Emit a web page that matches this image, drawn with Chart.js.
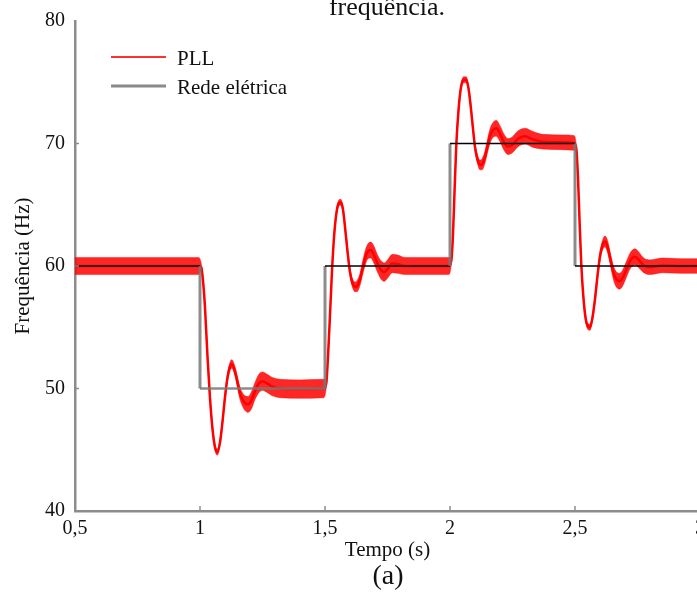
<!DOCTYPE html>
<html>
<head>
<meta charset="utf-8">
<script src="https://cdn.jsdelivr.net/npm/chart.js@4.4.1/dist/chart.umd.min.js"></script>
<style>
  html, body { margin: 0; padding: 0; background: #fff; overflow: hidden; }
  canvas { display: block; }
</style>
</head>
<body>
<canvas id="freqChart" width="710" height="592"></canvas>
<script>
// tick labels
const xTicks = [0.5, 1, 1.5, 2, 2.5, 3];
const yTicks = [40, 50, 60, 70, 80];

// grid frequency (step reference)
const gridTime = [0.5, 1, 1, 1.5, 1.5, 2, 2, 2.5, 2.5, 3];
const gridFreq = [60, 60, 50, 50, 60, 60, 70, 70, 60, 60];

// PLL estimate: centre value and half-width of the ripple band (Hz)
const pllTime = [
  0.5, 0.75, 0.995,
  1.005, 1.012, 1.02, 1.03, 1.04, 1.05, 1.06, 1.069, 1.08, 1.09, 1.1, 1.11, 1.12, 1.127, 1.14, 1.15, 1.16, 1.17, 1.18, 1.192, 1.205, 1.22, 1.235, 1.25, 1.27, 1.29, 1.32, 1.4, 1.495,
  1.505, 1.512, 1.52, 1.528, 1.537, 1.547, 1.556, 1.563, 1.572, 1.58, 1.59, 1.6, 1.61, 1.62, 1.628, 1.64, 1.65, 1.66, 1.67, 1.683, 1.695, 1.71, 1.725, 1.737, 1.75, 1.77, 1.79, 1.82, 1.9, 1.995,
  2.005, 2.012, 2.018, 2.025, 2.034, 2.044, 2.055, 2.065, 2.074, 2.082, 2.092, 2.1, 2.11, 2.12, 2.128, 2.14, 2.15, 2.16, 2.17, 2.185, 2.2, 2.215, 2.232, 2.25, 2.27, 2.3, 2.33, 2.37, 2.45, 2.495,
  2.505, 2.512, 2.518, 2.525, 2.533, 2.542, 2.552, 2.56, 2.57, 2.58, 2.59, 2.6, 2.61, 2.62, 2.63, 2.64, 2.65, 2.66, 2.678, 2.69, 2.705, 2.72, 2.739, 2.755, 2.775, 2.8, 2.85, 2.92, 3
];
const pllFreq = [
  60, 60, 60,
  59.9, 58.8, 56.6, 52.6, 49.2, 46.7, 45.2, 44.8, 45.6, 47.3, 49.3, 50.9, 51.8, 52.0, 51.4, 50.5, 49.6, 49.1, 48.8, 48.7, 49.0, 49.8, 50.4, 50.6, 50.4, 50.15, 50.0, 49.95, 50.0,
  50.4, 52.6, 56.0, 59.6, 62.6, 64.5, 65.15, 65.2, 64.6, 63.2, 61.2, 59.5, 58.6, 58.3, 58.35, 58.9, 59.8, 60.6, 61.15, 61.3, 60.95, 60.2, 59.65, 59.5, 59.75, 60.2, 60.15, 60.0, 60.0, 60.0,
  60.4, 62.6, 66.0, 69.8, 72.7, 74.6, 75.2, 75.2, 74.5, 73.2, 71.2, 69.7, 68.7, 68.25, 68.3, 68.9, 69.8, 70.6, 71.05, 71.25, 70.8, 70.15, 69.75, 69.9, 70.35, 70.6, 70.35, 70.15, 70.1, 70.05,
  69.6, 67.2, 63.8, 60.2, 57.6, 55.8, 55.05, 55.0, 55.8, 57.3, 59.2, 60.8, 61.7, 62.0, 61.6, 60.7, 59.75, 59.1, 58.75, 59.0, 59.7, 60.4, 60.75, 60.5, 60.05, 59.9, 60.05, 60.0, 60.0
];
const pllBand = [
  0.7, 0.7, 0.7,
  0.3, 0.25, 0.25, 0.25, 0.25, 0.25, 0.25, 0.25, 0.25, 0.25, 0.3, 0.3, 0.35, 0.35, 0.4, 0.45, 0.5, 0.55, 0.6, 0.65, 0.7, 0.7, 0.75, 0.75, 0.75, 0.75, 0.75, 0.75, 0.75,
  0.3, 0.25, 0.25, 0.25, 0.25, 0.25, 0.25, 0.25, 0.25, 0.3, 0.3, 0.35, 0.35, 0.4, 0.45, 0.5, 0.55, 0.6, 0.6, 0.65, 0.7, 0.7, 0.75, 0.75, 0.75, 0.75, 0.75, 0.7, 0.7, 0.7,
  0.3, 0.25, 0.25, 0.25, 0.25, 0.25, 0.25, 0.25, 0.25, 0.3, 0.3, 0.35, 0.35, 0.4, 0.45, 0.5, 0.55, 0.6, 0.6, 0.65, 0.65, 0.65, 0.65, 0.65, 0.65, 0.65, 0.65, 0.6, 0.6, 0.6,
  0.3, 0.25, 0.25, 0.25, 0.25, 0.25, 0.25, 0.25, 0.25, 0.3, 0.3, 0.35, 0.4, 0.45, 0.5, 0.5, 0.55, 0.6, 0.65, 0.65, 0.65, 0.65, 0.65, 0.65, 0.6, 0.6, 0.6, 0.6, 0.6
];

const SERIF = "'Liberation Serif', 'Times New Roman', serif";
const TEXT = '#111';
const AXIS = '#8c8c8c';
Chart.defaults.font.family = SERIF;
Chart.defaults.color = TEXT;

const pts = (xs, ys) => xs.map((x, i) => ({ x: x, y: ys[i] }));
const isVertical = c => c.p0.parsed.x === c.p1.parsed.x;

// extra text, inside legend and inward tick marks
const decorations = {
  id: 'decorations',
  afterDraw(chart) {
    const { ctx, chartArea: a, scales: { x, y } } = chart;
    ctx.save();
    ctx.strokeStyle = AXIS;
    ctx.lineWidth = 1.5;
    xTicks.slice(1).forEach(v => {
      const px = x.getPixelForValue(v);
      ctx.beginPath(); ctx.moveTo(px, a.bottom); ctx.lineTo(px, a.bottom - 5); ctx.stroke();
    });
    yTicks.slice(1, -1).forEach(v => {
      const py = y.getPixelForValue(v);
      ctx.beginPath(); ctx.moveTo(a.left, py); ctx.lineTo(a.left + 4, py); ctx.stroke();
    });

    ctx.fillStyle = TEXT;
    ctx.textAlign = 'center';
    ctx.textBaseline = 'alphabetic';
    ctx.font = '26px ' + SERIF;
    ctx.fillText('frequência.', 387, 15);
    ctx.font = '28px ' + SERIF;
    ctx.textBaseline = 'middle';
    ctx.fillText('(a)', 388, 577);

    // legend
    const items = chart.data.datasets.filter(d => d.legendColor);
    ctx.font = '21px ' + SERIF;
    ctx.textAlign = 'left';
    items.forEach((d, i) => {
      const ly = 57 + i * 29;
      ctx.strokeStyle = d.legendColor;
      ctx.lineWidth = d.legendWidth;
      ctx.beginPath(); ctx.moveTo(111, ly); ctx.lineTo(166, ly); ctx.stroke();
      ctx.fillStyle = TEXT;
      ctx.fillText(d.label, 177, ly + 2);
    });
    ctx.restore();
  }
};

new Chart(document.getElementById('freqChart'), {
  type: 'line',
  data: {
    datasets: [
      {
        label: 'PLL',
        data: pts(pllTime, pllFreq),
        borderColor: '#ff0000',
        borderWidth: 2.5,
        cubicInterpolationMode: 'monotone',
        pointRadius: 0,
        order: 1,
        legendColor: '#ff3030',
        legendWidth: 2
      },
      {
        label: 'Rede elétrica',
        data: pts(gridTime, gridFreq),
        borderColor: '#000',
        borderWidth: 1.5,
        pointRadius: 0,
        segment: {
          borderColor: c => (isVertical(c) || c.p0.parsed.y === 50) ? 'rgba(120,120,120,0.85)' : '#000',
          borderWidth: c => isVertical(c) ? 3 : (c.p0.parsed.y === 50 ? 2.5 : 1.5)
        },
        order: 0,
        legendColor: '#8a8a8a',
        legendWidth: 3
      },
      {
        label: 'PLL max',
        data: pts(pllTime, pllFreq.map((f, i) => f + pllBand[i])),
        borderColor: 'rgba(255,0,0,0.45)',
        borderWidth: 1,
        cubicInterpolationMode: 'monotone',
        pointRadius: 0,
        fill: false,
        order: 2
      },
      {
        label: 'PLL min',
        data: pts(pllTime, pllFreq.map((f, i) => f - pllBand[i])),
        borderColor: 'rgba(255,0,0,0.45)',
        borderWidth: 1,
        backgroundColor: 'rgba(255,0,0,0.85)',
        cubicInterpolationMode: 'monotone',
        pointRadius: 0,
        fill: '-1',
        order: 2
      }
    ]
  },
  options: {
    responsive: false,
    animation: false,
    devicePixelRatio: 1,
    layout: { padding: { top: 21, right: 10, left: 0, bottom: 0 } },
    plugins: { legend: { display: false }, tooltip: { enabled: false } },
    scales: {
      x: {
        type: 'linear',
        min: 0.5, max: 3,
        afterBuildTicks: s => { s.ticks = xTicks.map(v => ({ value: v })); },
        afterFit: s => { s.height = 81; s.paddingLeft = 0; s.paddingRight = 0; },
        grid: { drawOnChartArea: false, drawTicks: false },
        border: { color: AXIS, width: 2.5 },
        ticks: {
          padding: 6,
          maxRotation: 0,
          font: { size: 20 },
          callback: v => String(v).replace('.', ',')
        },
        title: {
          display: true,
          text: 'Tempo (s)',
          font: { size: 21, lineHeight: 1.2 },
          padding: { top: 0, bottom: 29 }
        }
      },
      y: {
        min: 40, max: 80,
        afterBuildTicks: s => { s.ticks = yTicks.map(v => ({ value: v })); },
        afterFit: s => { s.width = 75; s.paddingTop = 0; s.paddingBottom = 0; },
        grid: { drawOnChartArea: false, drawTicks: false },
        border: { color: AXIS, width: 2.5 },
        ticks: { padding: 10, font: { size: 20 } },
        title: {
          display: true,
          text: 'Frequência (Hz)',
          font: { size: 21, lineHeight: 1.2 },
          padding: { top: 11, bottom: 0 }
        }
      }
    }
  },
  plugins: [decorations]
});
</script>
</body>
</html>
